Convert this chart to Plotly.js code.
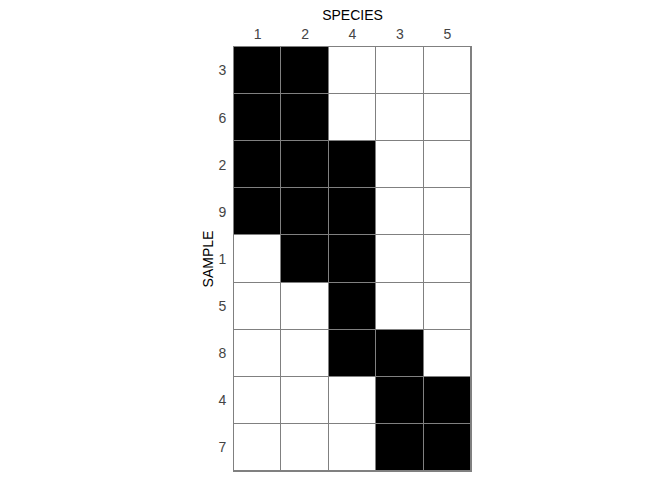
<!DOCTYPE html>
<html>
<head>
<meta charset="utf-8">
<script src="https://cdn.plot.ly/plotly-3.0.1.min.js"></script>
<style>html,body{margin:0;padding:0;background:#fff}#chart{width:672px;height:480px}</style>
</head>
<body>
<div id="chart"></div>
<script>
var species = ["1", "2", "4", "3", "5"];
var samples = ["3", "6", "2", "9", "1", "5", "8", "4", "7"];
var presence = [
  [1, 1, 0, 0, 0],
  [1, 1, 0, 0, 0],
  [1, 1, 1, 0, 0],
  [1, 1, 1, 0, 0],
  [0, 1, 1, 0, 0],
  [0, 0, 1, 0, 0],
  [0, 0, 1, 1, 0],
  [0, 0, 0, 1, 1],
  [0, 0, 0, 1, 1]
];

var trace = {
  type: "heatmap",
  x: species,
  y: samples,
  z: presence,
  zmin: 0,
  zmax: 1,
  colorscale: [[0, "#ffffff"], [1, "#000000"]],
  showscale: false,
  xgap: 1,
  ygap: 1,
  hoverinfo: "x+y+z"
};

var layout = {
  width: 672,
  height: 480,
  margin: {l: 234, r: 201, t: 47, b: 9},
  paper_bgcolor: "#ffffff",
  plot_bgcolor: "#808080",
  font: {family: "Liberation Sans, Arial, sans-serif", size: 14, color: "#444"},
  xaxis: {
    type: "category",
    side: "top",
    title: {text: "SPECIES", font: {color: "#000", size: 14}, standoff: 2},
    showgrid: false,
    zeroline: false,
    showline: true,
    mirror: true,
    linecolor: "#808080",
    linewidth: 1,
    ticks: "",
    ticklabelstandoff: 1,
    tickfont: {color: "#444", size: 14},
    automargin: false
  },
  yaxis: {
    type: "category",
    autorange: "reversed",
    title: {text: "SAMPLE", font: {color: "#000", size: 14}, standoff: 1},
    showgrid: false,
    zeroline: false,
    showline: true,
    mirror: true,
    linecolor: "#808080",
    linewidth: 1,
    ticks: "",
    ticklabelstandoff: 4,
    tickfont: {color: "#444", size: 14},
    automargin: false
  }
};

Plotly.newPlot("chart", [trace], layout, {displayModeBar: false, staticPlot: true});
</script>
</body>
</html>
